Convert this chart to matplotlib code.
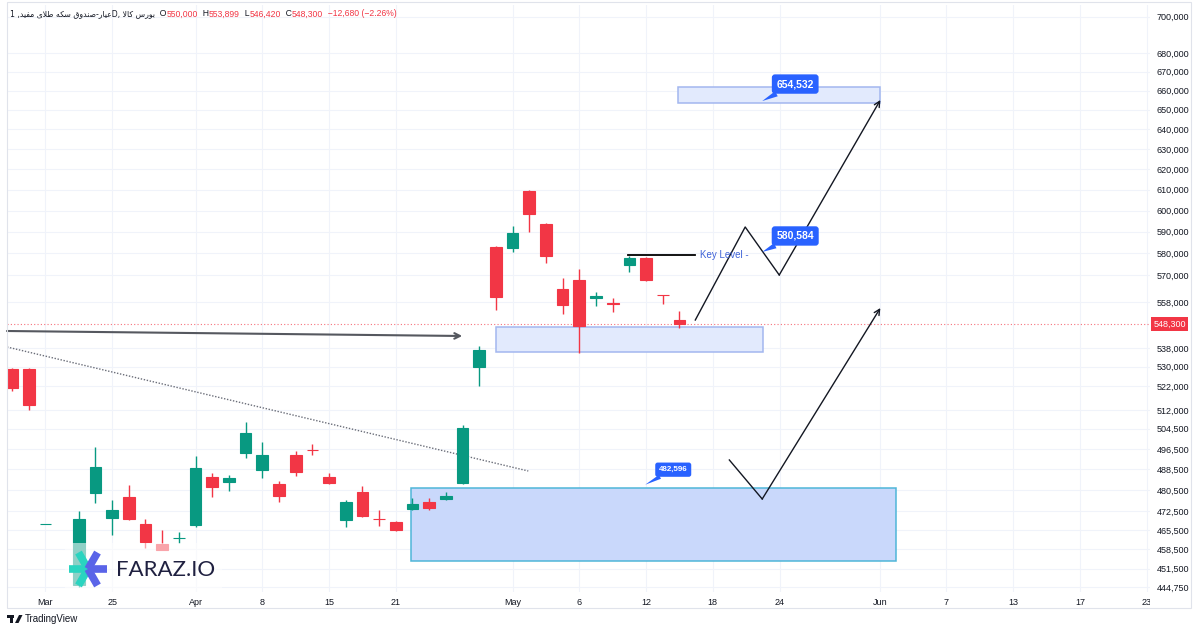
import math
import matplotlib
matplotlib.use("Agg")
import matplotlib.pyplot as plt
from matplotlib import font_manager, ft2font
from matplotlib.patches import Rectangle, Polygon
from matplotlib.ticker import FixedLocator, FixedFormatter, NullLocator, NullFormatter
from matplotlib.transforms import Bbox, TransformedBbox, blended_transform_factory

# daily bars, x = bar index (there is no bar at index 3)
bar_index = [0, 1, 2] + list(range(4, 41))
opens = [529050, 529050, 467760, 445500, 479420, 470000, 477900, 467760, 460390, 462400,
         467390, 485560, 483630, 494900, 488260, 482870, 494110, 496200, 485560, 469250,
         479800, 469700, 468510, 473370, 476010, 477140, 483250, 529890, 582880, 582420,
         609400, 593630, 563760, 567800, 559740, 557520, 574610, 577810, 561080, 550000]
highs = [529400, 529400, 467760, 472610, 497260, 476770, 482480, 469630, 465530, 464800,
         493720, 487100, 486320, 507230, 499240, 484020, 495690, 498450, 487100, 476770,
         482100, 472990, 468880, 477520, 477520, 479800, 506030, 538800, 583350, 592690,
         609880, 594100, 568710, 572790, 562420, 559740, 578730, 578270, 561080, 553899]
lows = [519880, 512100, 467760, 444900, 475630, 463690, 469250, 458930, 458200, 460760,
        466650, 477900, 480180, 492940, 485170, 476010, 485940, 494110, 482870, 466650,
        470370, 467020, 465170, 472990, 472990, 476770, 482870, 521950, 554430, 580570,
        589870, 575520, 552670, 535810, 556200, 553550, 571430, 567350, 557080, 546420]
closes = [521120, 514140, 467760, 469630, 489420, 472990, 469630, 461120, 458200, 462590,
          489040, 481710, 485170, 502820, 494110, 478280, 487490, 495900, 483250, 476010,
          470740, 469500, 465530, 475250, 473740, 478280, 504830, 537090, 560190, 589400,
          598370, 578730, 556630, 547430, 560630, 557080, 577810, 567800, 560900, 548300]

x_tick_pos = [2, 6, 11, 15, 19, 23, 30, 34, 38, 42, 46, 52, 56, 60, 64, 68]
x_tick_labels = ["Mar", "25", "Apr", "8", "15", "21", "May", "6", "12", "18", "24",
                 "Jun", "7", "13", "17", "23"]
price_ticks = [700000, 680000, 670000, 660000, 650000, 640000, 630000, 620000, 610000,
               600000, 590000, 580000, 570000, 558000, 538000, 530000, 522000, 512000,
               504500, 496500, 488500, 480500, 472500, 465500, 458500, 451500, 444750]

last_price = 548300
ohlc_text = [("O", "550,000"), ("H", "553,899"), ("L", "546,420"), ("C", "548,300")]
change_text = "\u221212,680 (\u22122.26%)"
title_name = "عیار-صندوق سکه طلای مفید"
title_exchange = "بورس کالا"

# drawings, in (bar index, price)
zones = [
    # x0, x1, low, high, face, edge
    (23.9, 53.0, 454200, 481500, "#c9d8fb", "#4fb6d8"),
    (29.0, 45.0, 536240, 547000, "#e2eafd", "#a3b7ef"),
    (39.9, 52.0, 653520, 661890, "#e2eafd", "#a3b7ef"),
]
notes = [  # tip x, price, label offset px, font size
    (44.96, 654532, (33, 17), 7.5),
    (44.96, 580584, (33, 16), 7.5),
    (37.95, 482596, (28, 15), 5.8),
]
zigzag_up = [(40.95, 550040), (43.94, 592220), (45.98, 570060), (52.04, 655080)]
zigzag_down = [(42.99, 492160), (44.96, 477140), (52.04, 555310)]
key_level = (36.93, 40.95, 579190)
trend_line = [(-0.3, 538380), (30.94, 487870)]
flat_arrow = [(-0.3, 545260), (26.98, 543100)]

GREEN = "#089981"
RED = "#f23645"
DARK = "#131722"
BLUE = "#2962ff"

_dejavu = ft2font.FT2Font(font_manager.findfont("DejaVu Sans"))


def has_glyph(ch):
    return _dejavu.get_char_index(ord(ch)) != 0


# contextual forms for the Persian letters used in the title
FORMS = {
    "ا": ("\ufe8d", "\ufe8e"), "د": ("\ufea9", "\ufeaa"),
    "ر": ("\ufead", "\ufeae"), "و": ("\ufeed", "\ufeee"),
    "ب": ("\ufe8f", "\ufe90", "\ufe91", "\ufe92"),
    "ص": ("\ufeb9", "\ufeba", "\ufebb", "\ufebc"),
    "ط": ("\ufec1", "\ufec2", "\ufec3", "\ufec4"),
    "ع": ("\ufec9", "\ufeca", "\ufecb", "\ufecc"),
    "ف": ("\ufed1", "\ufed2", "\ufed3", "\ufed4"),
    "ق": ("\ufed5", "\ufed6", "\ufed7", "\ufed8"),
    "ل": ("\ufedd", "\ufede", "\ufedf", "\ufee0"),
    "م": ("\ufee1", "\ufee2", "\ufee3", "\ufee4"),
    "ن": ("\ufee5", "\ufee6", "\ufee7", "\ufee8"),
    "ه": ("\ufee9", "\ufeea", "\ufeeb", "\ufeec"),
    "س": ("\ufeb1", "\ufeb2", "\ufeb3", "\ufeb4"),
    "ک": ("\ufb8e", "\ufb8f", "\ufb90", "\ufb91"),
    "ی": ("\ufbfc", "\ufbfd", "\ufbfe", "\ufbff"),
}


def shape_rtl(text):
    chars = list(text.replace("\u064a", "\u06cc").replace("\u0643", "\u06a9"))
    out = []
    i = 0
    while i < len(chars):
        c = chars[i]
        if c not in FORMS:
            out.append(c)
            i += 1
            continue
        prev = chars[i - 1] if i > 0 else ""
        link_prev = prev in FORMS and len(FORMS[prev]) == 4
        if c == "ل" and i + 1 < len(chars) and chars[i + 1] == "ا":
            out.append("\ufefc" if link_prev else "\ufefb")
            i += 2
            continue
        nxt = chars[i + 1] if i + 1 < len(chars) else ""
        link_next = len(FORMS[c]) == 4 and nxt in FORMS
        f = FORMS[c]
        if link_prev and link_next:
            g = f[3]
        elif link_prev:
            g = f[1]
        elif link_next:
            g = f[2]
        else:
            g = f[0]
        out.append(g if has_glyph(g) else c)
        i += 1
    return "".join(reversed(out))


plt.rcParams["font.family"] = ["Liberation Sans", "DejaVu Sans"]

fig = plt.figure(figsize=(12, 6.3), dpi=100)
fig.patch.set_facecolor("white")
ax = fig.add_axes([7 / 1200, 38 / 630, 1143 / 1200, 587 / 630])
ax.set_yscale("log")
ax.set_xlim(-0.3, 68.2)
ax.set_ylim(443160, 706430)

# candles
for x, o, h, l, c in zip(bar_index, opens, highs, lows, closes):
    col = GREEN if c >= o else RED
    ax.vlines(x, l, h, color=col, lw=1, zorder=3)
    ax.bar(x, abs(c - o), bottom=min(o, c), width=0.7, color=col, edgecolor=col,
           linewidth=0.8, zorder=4)

# zones
for x0, x1, lo, hi, fc, ec in zones:
    ax.add_patch(Rectangle((x0, lo), x1 - x0, hi - lo, facecolor=fc, edgecolor=ec,
                           lw=1.1, zorder=2))

# last price line
ax.axhline(last_price, color=RED, lw=0.8, ls=(0, (1, 2)), alpha=0.7, zorder=2)

# trend line and flat arrow
ax.plot(*zip(*trend_line), color="#6a6d78", lw=1, ls=(0, (1, 1.2)), zorder=3)
ax.annotate("", xy=flat_arrow[1], xytext=flat_arrow[0],
            arrowprops=dict(arrowstyle="->", color="#55585f", lw=1.5,
                            shrinkA=0, shrinkB=0), zorder=3)

# projected paths
for path in (zigzag_up, zigzag_down):
    ax.plot(*zip(*path[:-1]), color=DARK, lw=1, zorder=5)
    ax.annotate("", xy=path[-1], xytext=path[-2],
                arrowprops=dict(arrowstyle="->", color=DARK, lw=1,
                                shrinkA=0, shrinkB=0), zorder=5)

# key level
ax.plot([key_level[0], key_level[1]], [key_level[2]] * 2, color="black", lw=1.3, zorder=5)
ax.text(key_level[1] + 0.3, key_level[2], "Key Level -", color="#3f63d8", fontsize=7,
        va="center", ha="left", zorder=5)

# price notes
for x, p, off, fs in notes:
    ax.annotate(f"{p:,}", xy=(x, p), xytext=off, textcoords="offset pixels",
                ha="center", va="center", color="white", fontsize=fs, fontweight="bold",
                bbox=dict(boxstyle="round,pad=0.45,rounding_size=0.3", fc=BLUE, ec="none"),
                arrowprops=dict(arrowstyle="wedge,tail_width=0.55,shrink_factor=0.5",
                                fc=BLUE, ec="none", shrinkA=0, shrinkB=0),
                zorder=6)

# axes styling
ax.grid(True, color="#f0f3fa", lw=0.8, zorder=0)
ax.set_axisbelow(True)
for s in ax.spines.values():
    s.set_visible(False)
ax.yaxis.tick_right()
ax.yaxis.set_major_locator(FixedLocator(price_ticks))
ax.yaxis.set_major_formatter(FixedFormatter([f"{v:,}" for v in price_ticks]))
ax.yaxis.set_minor_locator(NullLocator())
ax.yaxis.set_minor_formatter(NullFormatter())
ax.xaxis.set_major_locator(FixedLocator(x_tick_pos))
ax.xaxis.set_major_formatter(FixedFormatter(x_tick_labels))
ax.tick_params(axis="y", length=0, pad=5, labelsize=6.5, labelcolor=DARK)
ax.tick_params(axis="x", length=0, pad=4, labelsize=6.5, labelcolor=DARK)
clip = TransformedBbox(Bbox([[0, 0], [1150 / 1200, 1]]), fig.transFigure)
for lbl in ax.get_xticklabels():
    lbl.set_clip_box(clip)
    lbl.set_clip_on(True)

# last price tag on the scale
tr = blended_transform_factory(ax.transAxes, ax.transData)
ax.text(1.003, last_price, f"{last_price:,}", transform=tr, ha="left", va="center",
        color="white", fontsize=6.5, zorder=7,
        bbox=dict(boxstyle="square,pad=0.25", fc=RED, ec="none"))

# overlay in pixel coordinates
ov = fig.add_axes([0, 0, 1, 1], zorder=5)
ov.set_xlim(0, 1200)
ov.set_ylim(630, 0)
ov.axis("off")
ov.patch.set_alpha(0)

ov.add_patch(Rectangle((7, 2), 1184, 606, fill=False, ec="#e0e3eb", lw=0.8))

# header
r = fig.canvas.get_renderer()
header = [("1 ," + shape_rtl(title_name) + "D, " + shape_rtl(title_exchange), DARK,
           ["DejaVu Sans"], 5.6)]
for k, v in ohlc_text:
    header.append(("  " + k, DARK, None, 6.2))
    header.append((v, RED, None, 6.2))
header.append(("  " + change_text, RED, None, 6.2))
hx = 10
for s, col, fam, fs in header:
    kw = {"family": fam} if fam else {}
    t = ov.text(hx, 14, s, color=col, fontsize=fs, va="center", ha="left", **kw)
    hx += t.get_window_extent(r).width

# faraz logo
ov.add_patch(Rectangle((65, 543), 157, 53, fc="white", alpha=0.55, ec="none"))
cx, cy, arm = 88, 569, 19
for ang, col in [(180, "#2ad4c0"), (120, "#2ad4c0"), (240, "#2ad4c0"),
                 (0, "#5a64e8"), (60, "#5a64e8"), (300, "#5a64e8")]:
    ex = cx + arm * math.cos(math.radians(ang))
    ey = cy - arm * math.sin(math.radians(ang))
    ov.plot([cx, ex], [cy, ey], color=col, lw=5.5, solid_capstyle="butt")
ov.text(116, 570, "FARAZ.IO", fontsize=16, family=["Lato", "DejaVu Sans"],
        color="#1f2040", va="center", ha="left")

# tradingview mark
ov.add_patch(Rectangle((7, 615), 6.5, 2.5, fc=DARK, ec="none"))
ov.add_patch(Rectangle((10, 615), 2.5, 8, fc=DARK, ec="none"))
ov.add_patch(Polygon([(15, 623), (19, 615), (22.5, 615), (18.5, 623)], fc=DARK, ec="none"))
ov.text(25, 619, "TradingView", fontsize=7, color=DARK, va="center", ha="left")

fig.savefig("out.png", dpi=100, facecolor="white")
